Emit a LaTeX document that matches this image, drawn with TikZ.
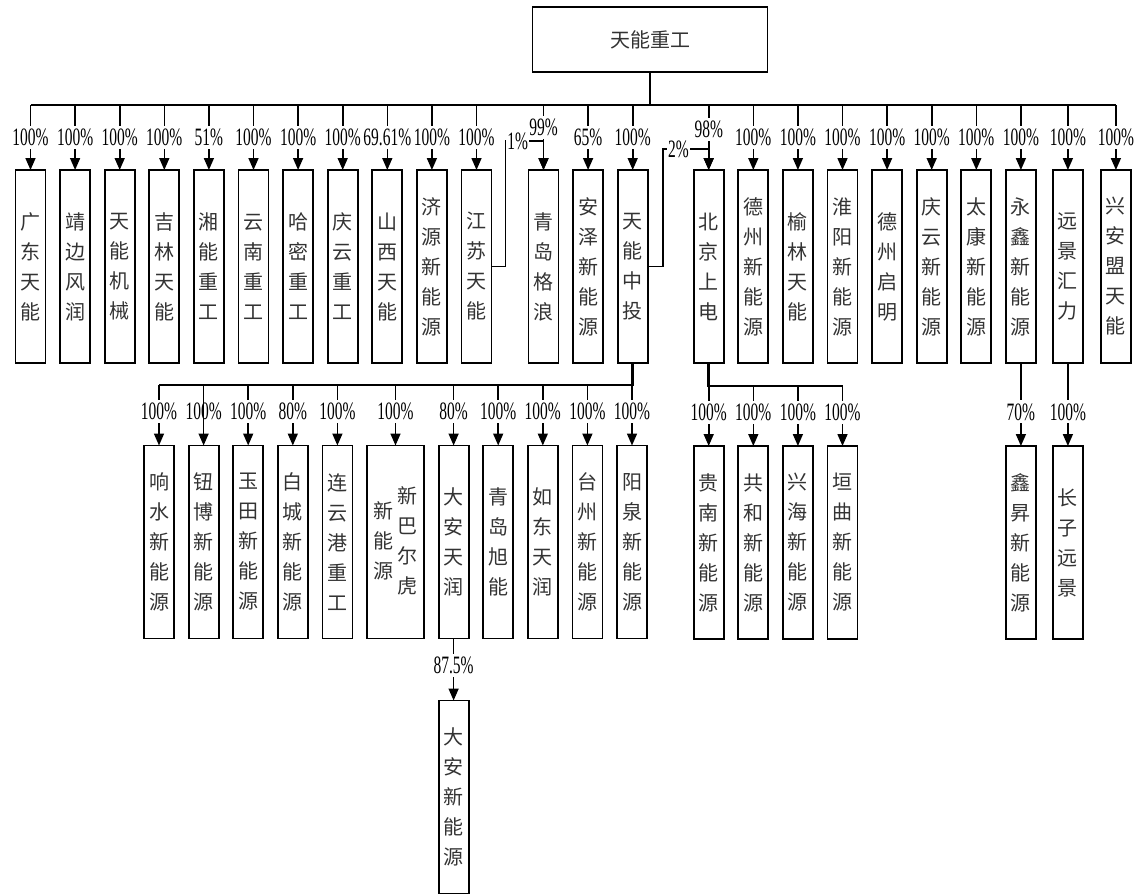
\documentclass[tikz,border=0pt]{standalone}
\usepackage{fontspec}
\usepackage{tikz}
\usetikzlibrary{arrows.meta, positioning}
\newfontfamily\cjk{Noto Sans CJK SC}
\newfontfamily\pctfont[FakeStretch=0.62]{Liberation Serif}
\newcommand{\vcol}[1]{\begin{tabular}{@{}c@{}}#1\end{tabular}}

\begin{document}
\begin{tikzpicture}[
  x=0.5pt, y=-0.5pt,
  co/.style={rectangle, draw, line width=0.9pt, minimum width=15pt, minimum height=96.5pt,
    inner sep=0pt, outer sep=0pt, align=center, font=\cjk\fontsize{10pt}{15pt}\selectfont, text=black!80},
  pct/.style={fill=white, inner xsep=0.5pt, inner ysep=1.5pt,
    font=\pctfont\fontsize{12.5pt}{14pt}\selectfont},
  link/.style={line width=0.8pt, -{Triangle[length=6pt, width=5pt]}},
  trunk/.style={line width=1.3pt},
  node distance=7.3pt,
]
  \useasboundingbox (0,0) rectangle (1139,894);

  \node[co, minimum width=117.5pt, minimum height=32.5pt] (root) at (650,39.5) {天能重工};

  % first tier
  \node[co] (gdtn) at (30.5,266.5) {广\\东\\天\\能};
  \node[co, right=of gdtn] (jbfr) {靖\\边\\风\\润};
  \node[co, right=of jbfr] (tnjx) {天\\能\\机\\械};
  \node[co, right=of tnjx] (jltn) {吉\\林\\天\\能};
  \node[co, right=of jltn] (xnzg) {湘\\能\\重\\工};
  \node[co, right=of xnzg] (ynzg) {云\\南\\重\\工};
  \node[co, right=of ynzg] (hmzg) {哈\\密\\重\\工};
  \node[co, right=of hmzg] (qyzg) {庆\\云\\重\\工};
  \node[co, right=of qyzg] (sxtn) {山\\西\\天\\能};
  \node[co, right=of sxtn] (jyxny) {济\\源\\新\\能\\源};
  \node[co, right=of jyxny] (jstn) {江\\苏\\天\\能};
  \node[co, right=18.5pt of jstn] (qdgl) {青\\岛\\格\\浪};
  \node[co, right=of qdgl] (azxny) {安\\泽\\新\\能\\源};
  \node[co, right=of azxny] (tnzt) {天\\能\\中\\投};
  \node[co, right=23pt of tnzt] (bjsd) {北\\京\\上\\电};
  \node[co, right=of bjsd] (dzxny) {德\\州\\新\\能\\源};
  \node[co, right=of dzxny] (yltn) {榆\\林\\天\\能};
  \node[co, right=of yltn] (hyxny) {淮\\阳\\新\\能\\源};
  \node[co, right=of hyxny] (dzqm) {德\\州\\启\\明};
  \node[co, right=of dzqm] (qyxny) {庆\\云\\新\\能\\源};
  \node[co, right=of qyxny] (tkxny) {太\\康\\新\\能\\源};
  \node[co, right=of tkxny] (yxxny) {永\\鑫\\新\\能\\源};
  \node[co, right=8.5pt of yxxny] (yjhl) {远\\景\\汇\\力};
  \node[co, right=9pt of yjhl] (xamtn) {兴\\安\\盟\\天\\能};

  % second tier
  \node[co] (xshui) at (159,542) {响\\水\\新\\能\\源};
  \node[co, right=of xshui] (nbxny) {钮\\博\\新\\能\\源};
  \node[co, right=of nbxny] (ytxny) {玉\\田\\新\\能\\源};
  \node[co, right=of ytxny] (bcxny) {白\\城\\新\\能\\源};
  \node[co, right=of bcxny] (lygzg) {连\\云\\港\\重\\工};
  \node[co, right=of lygzg, minimum width=28.5pt] (xbehxny) {\vcol{新\\能\\源}\hspace{2pt}\vcol{新\\巴\\尔\\虎}};
  \node[co, right=of xbehxny] (datr) {大\\安\\天\\润};
  \node[co, right=of datr] (qdxn) {青\\岛\\旭\\能};
  \node[co, right=of qdxn] (rdtr) {如\\东\\天\\润};
  \node[co, right=of rdtr] (tzxny) {台\\州\\新\\能\\源};
  \node[co, right=of tzxny] (yqxny) {阳\\泉\\新\\能\\源};
  \node[co, below=41.5pt of bjsd] (gnxny) {贵\\南\\新\\能\\源};
  \node[co, right=of gnxny] (ghxny) {共\\和\\新\\能\\源};
  \node[co, right=of ghxny] (xhxny) {兴\\海\\新\\能\\源};
  \node[co, right=of xhxny] (yqu) {垣\\曲\\新\\能\\源};
  \node[co, below=41.5pt of yxxny] (xsheng) {鑫\\昇\\新\\能\\源};
  \node[co, below=41.5pt of yjhl] (czyj) {长\\子\\远\\景};

  % third tier
  \node[co, below=31pt of datr] (daxny) {大\\安\\新\\能\\源};

  % holdings of the parent
  \coordinate[below=16.5pt of root] (bus);
  \draw[trunk] (root) -- (bus);
  \draw[trunk] (gdtn.north |- bus) -- (xamtn.north |- bus);
  \foreach \n/\p in {gdtn/100, jbfr/100, tnjx/100, jltn/100, xnzg/51, ynzg/100, hmzg/100,
      qyzg/100, sxtn/69.61, jyxny/100, jstn/100, azxny/65, tnzt/100, dzxny/100, yltn/100,
      hyxny/100, dzqm/100, qyxny/100, tkxny/100, yxxny/100, yjhl/100, xamtn/100}
    \draw[link] (\n.north |- bus) -- node[pct]{\p\%} (\n.north);
  \draw[link] (qdgl.north |- bus) -- node[pct, pos=0.34]{99\%} (qdgl.north);
  \draw[link] (bjsd.north |- bus) -- node[pct, pos=0.38]{98\%} (bjsd.north);
  \draw[link] (jstn.east) -- ++(7pt,0) |- node[pct, pos=0.66]{1\%} ([yshift=14.5pt]qdgl.north) -- (qdgl.north);
  \draw[link] (tnzt.east) -- ++(7.5pt,0) |- node[pct, pos=0.67]{2\%} ([yshift=10.5pt]bjsd.north) -- (bjsd.north);

  % 天能中投
  \coordinate[below=11pt of tnzt] (lbus);
  \draw[trunk] (tnzt) -- (lbus) -- (xshui.north |- lbus);
  \foreach \n/\p in {xshui/100, ytxny/100, bcxny/80, lygzg/100, xbehxny/100, datr/80,
      qdxn/100, rdtr/100, tzxny/100, yqxny/100}
    \draw[link] (\n.north |- lbus) -- node[pct, pos=0.44]{\p\%} (\n.north);
  \draw[link] (nbxny.north |- lbus) -- node[pct, fill=none, pos=0.44]{100\%} (nbxny.north);

  % 北京上电
  \coordinate[below=11.5pt of bjsd] (rbus);
  \draw[trunk] (bjsd) -- (rbus) -- (yqu.north |- rbus);
  \foreach \n in {gnxny, ghxny, xhxny, yqu}
    \draw[link] (\n.north |- rbus) -- node[pct, pos=0.44]{100\%} (\n.north);

  \draw[link] (yxxny) -- node[pct, pos=0.59]{70\%} (xsheng);
  \draw[link] (yjhl) -- node[pct, pos=0.59]{100\%} (czyj);
  \draw[link] (datr) -- node[pct, pos=0.44]{87.5\%} (daxny);
\end{tikzpicture}
\end{document}
